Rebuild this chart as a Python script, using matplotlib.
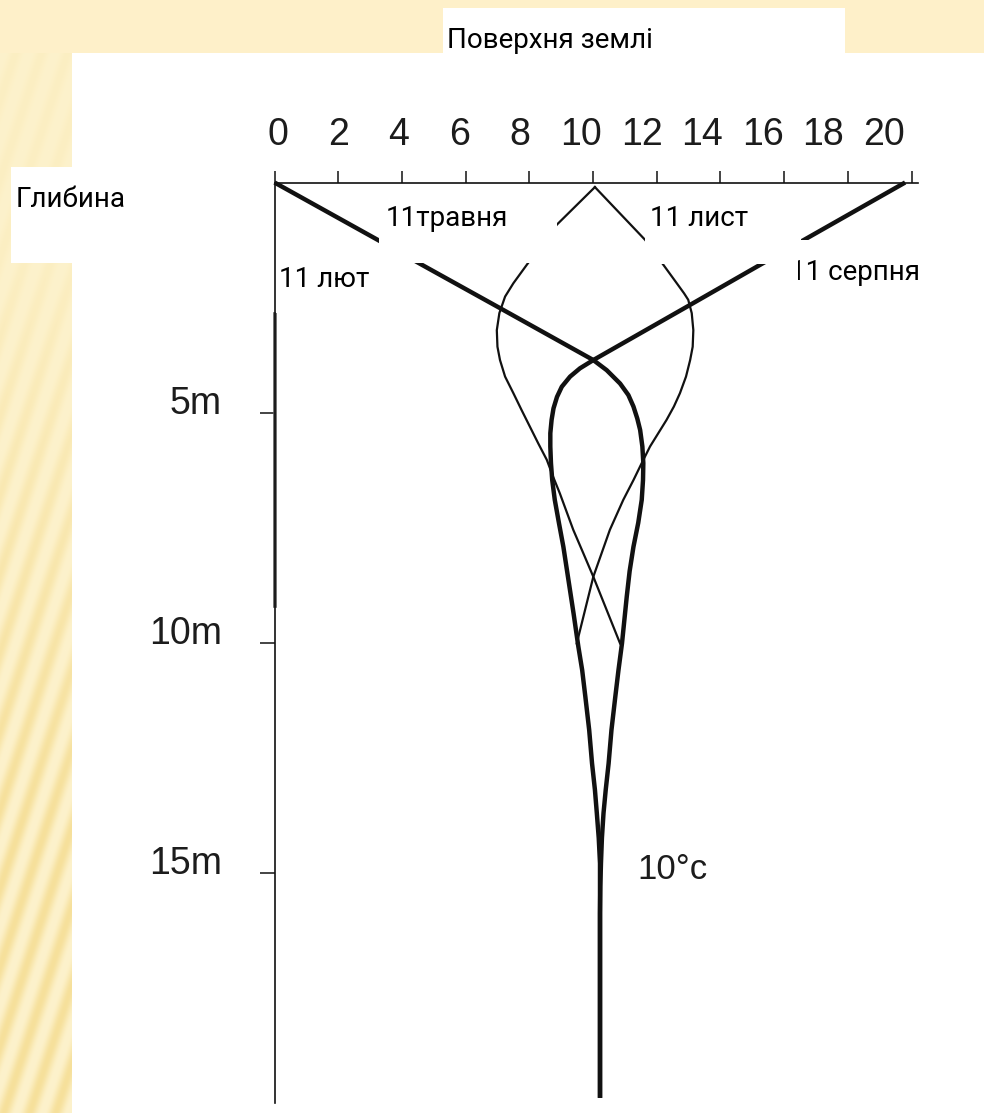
import numpy as np
import matplotlib
matplotlib.use('Agg')
import matplotlib.pyplot as plt
from matplotlib.patches import Rectangle
from matplotlib.transforms import Bbox, TransformedBbox

# ground temperature profiles: temperature (°C) vs depth (m)
feb_temp = [0.0, 3.30, 4.63, 7.13, 10.01, 10.43, 10.85, 11.11, 11.27, 11.39,
            11.48, 11.55, 11.58, 11.57, 11.53, 11.42, 11.27, 11.15, 11.06, 10.91,
            10.80, 10.70, 10.58, 10.49, 10.40, 10.33, 10.28, 10.25, 10.23, 10.22, 10.22]
feb_depth = [0.0, 1.27, 1.79, 2.75, 3.86, 4.08, 4.37, 4.62, 4.87, 5.13,
             5.38, 5.74, 6.10, 6.47, 6.90, 7.40, 7.92, 8.45, 9.00, 10.02,
             10.60, 11.18, 11.90, 12.63, 13.20, 13.71, 14.25, 14.80, 15.30, 15.89, 19.9]

aug_temp = [19.8, 15.22, 13.0, 10.01, 9.59, 9.28, 9.02, 8.87, 8.76,
            8.70, 8.66, 8.66, 8.68, 8.72, 8.80, 8.93, 9.07, 9.22, 9.39, 9.54,
            9.66, 9.76, 9.88, 9.97, 10.06, 10.12, 10.18, 10.22, 10.22, 10.22]
aug_depth = [0.0, 1.80, 2.68, 3.86, 4.04, 4.22, 4.44, 4.66, 4.91,
             5.16, 5.45, 5.74, 6.10, 6.47, 6.90, 7.40, 7.92, 8.60, 9.37, 10.09,
             10.60, 11.18, 11.90, 12.63, 13.20, 13.71, 14.25, 14.80, 15.89, 19.9]

may_temp = [10.06, 8.86, 7.92, 7.50, 7.24, 7.06, 6.98, 7.00, 7.08, 7.24, 7.50,
            7.76, 8.02, 8.28, 8.55, 8.75, 8.96, 9.38, 9.69, 10.01, 10.85]
may_depth = [0.1, 0.92, 1.79, 2.19, 2.48, 2.84, 3.21, 3.57, 3.86, 4.22, 4.58,
             4.95, 5.31, 5.67, 6.03, 6.40, 6.76, 7.55, 8.05, 8.57, 10.02]

nov_temp = [10.06, 11.64, 12.21, 12.63, 12.86, 12.99, 13.10, 13.15, 13.13, 13.05,
            12.92, 12.73, 12.54, 12.31, 12.05, 11.79, 11.53, 11.27, 10.95, 10.53,
            10.01, 9.49]
nov_depth = [0.1, 1.25, 1.79, 2.19, 2.41, 2.55, 2.84, 3.21, 3.57, 3.86,
             4.22, 4.58, 4.87, 5.16, 5.45, 5.74, 6.10, 6.47, 6.90, 7.55,
             8.57, 10.02]

temp_ticks = [0, 2, 4, 6, 8, 10, 12, 14, 16, 18, 20]
depth_ticks = [5, 10, 15]
depth_labels = ['5m', '10m', '15m']

W, H = 984, 1113
fig = plt.figure(figsize=(W / 100, H / 100), dpi=100)

# background: pale striped margin + white slide area
bg = fig.add_axes([0, 0, 1, 1], zorder=0)
yy, xx = np.mgrid[0:H, 0:W].astype(float)
s = 0.5 + 0.5 * np.sin(2 * np.pi * (xx + 0.33 * yy) / 26.0)
s = s ** 1.3
k = np.clip((yy - 120) / 700, 0.2, 1.0)
light = np.array([253, 242, 204]) / 255.0
dark = np.array([246, 224, 155]) / 255.0
img = light * (1 - (s * k)[..., None]) + dark * (s * k)[..., None]
img[yy < 53] = np.array([254, 240, 201]) / 255.0
img[(yy >= 53) & (xx >= 72)] = 1.0
bg.imshow(img, extent=(0, W, H, 0), interpolation='bilinear')
bg.set_xlim(0, W)
bg.set_ylim(H, 0)
bg.axis('off')

# plotting area: 0..20.2 °C across, 0..20 m down
x0, x1 = 274.5, 274.5 + 20.2 * 31.85
y0, y1 = 182.5, 1102.5
ax = fig.add_axes([x0 / W, 1 - y1 / H, (x1 - x0) / W, (y1 - y0) / H], zorder=1)
ax.patch.set_visible(False)
ax.set_xlim(0, 20.2)
ax.set_ylim(20, 0)

ink = '#111111'
for t, d in [(may_temp, may_depth), (nov_temp, nov_depth)]:
    ax.plot(t, d, color=ink, lw=1.6, solid_joinstyle='round', clip_on=False)
for t, d in [(feb_temp, feb_depth), (aug_temp, aug_depth)]:
    ax.plot(t, d, color=ink, lw=3.2, solid_joinstyle='round',
            solid_capstyle='butt', clip_on=False)

# doubled stretch of the depth axis
ax.plot([0, 0], [2.85, 9.2], color='#555555', lw=2.6, clip_on=False)

for side in ['right', 'bottom']:
    ax.spines[side].set_visible(False)
for side in ['top', 'left']:
    ax.spines[side].set_linewidth(1.2)
    ax.spines[side].set_color(ink)

ax.xaxis.set_ticks_position('top')
ax.set_xticks(temp_ticks)
ax.set_xticklabels([])
ax.tick_params(axis='x', direction='out', length=8.6, width=1.1, color=ink)
ax.set_yticks(depth_ticks)
ax.set_yticklabels([])
ax.tick_params(axis='y', direction='out', length=10.8, width=1.1, color=ink)

num_font = dict(family='Liberation Sans', size=27, color='#1c1c1c')
for t in temp_ticks:
    ax.annotate(str(t), xy=(0.1 + 0.952 * t, 0), xytext=(0, 27),
                textcoords='offset points', ha='center', va='baseline',
                annotation_clip=False, **num_font)
for d, lab in zip(depth_ticks, depth_labels):
    ax.annotate(lab, xy=(0, d), xytext=(-38, 6), textcoords='offset points',
                ha='right', va='center', annotation_clip=False, **num_font)
ax.annotate('10°c', xy=(11.38, 15.0), xytext=(0, -5), textcoords='offset points',
            ha='left', va='baseline', family='Liberation Sans', size=25,
            color='#1c1c1c')

# label boxes laid over the chart
ov = fig.add_axes([0, 0, 1, 1], zorder=2)
ov.patch.set_visible(False)
ov.set_xlim(0, W)
ov.set_ylim(H, 0)
ov.axis('off')

lab_font = dict(family=['Roboto', 'DejaVu Sans'], size=20, color='black')
boxes = [
    ((443, 8, 402, 79), 'Поверхня землі', (447, 48)),
    ((11, 167, 231, 96), 'Глибина', (16, 207)),
    ((379, 190, 178, 73), '11травня', (386, 226)),
    ((645, 190, 156, 74), '11 лист', (650, 226)),
    ((276, 245, 137, 68), '11 лют', (279, 287)),
    ((798, 240, 160, 70), '11 серпня', (790, 280)),
]
for (bx, by, bw, bh), text, (tx, ty) in boxes:
    box = Rectangle((bx, by), bw, bh, facecolor='white', edgecolor='none')
    ov.add_patch(box)
    txt = ov.text(tx, ty, text, ha='left', va='baseline', clip_on=True, **lab_font)
    txt.set_clip_box(TransformedBbox(Bbox.from_bounds(bx, by, bw, bh), ov.transData))

fig.savefig('out.png', dpi=100)
